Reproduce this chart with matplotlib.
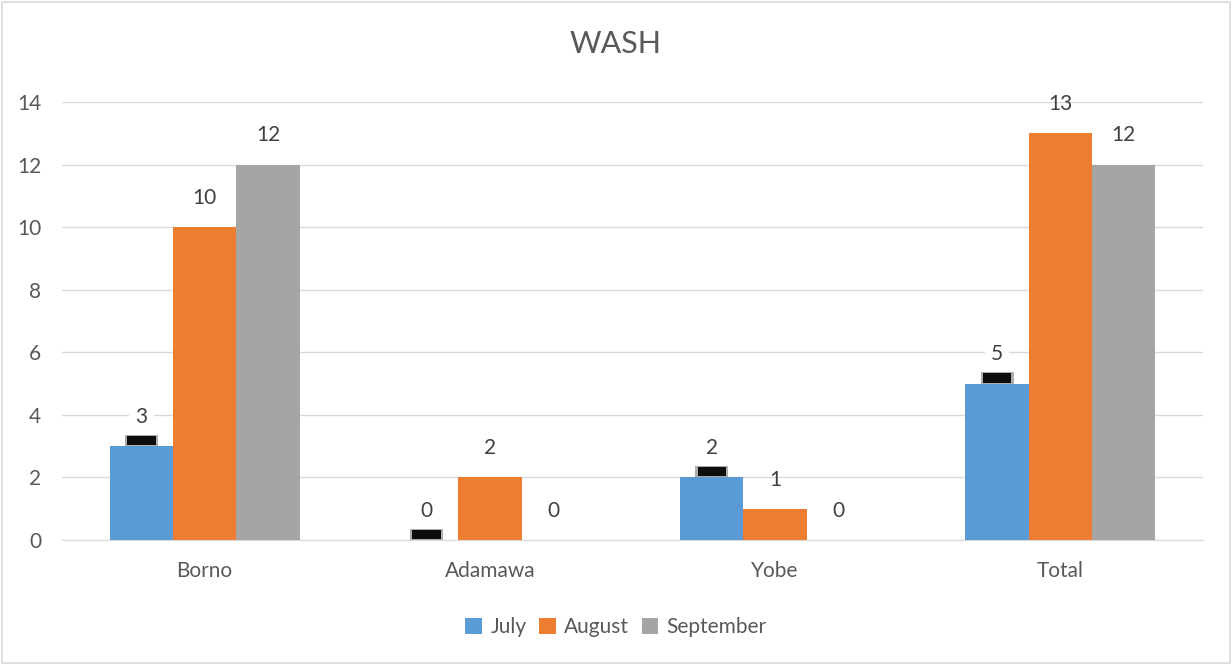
import matplotlib
matplotlib.use("Agg")
import matplotlib.pyplot as plt
import numpy as np

# ---------------- data ----------------
categories = ["Borno", "Adamawa", "Yobe", "Total"]
july       = [3, 0, 2, 5]
august     = [10, 2, 1, 13]
september  = [12, 0, 0, 12]
series     = [("July", july, "#5B9BD5"),
              ("August", august, "#ED7D31"),
              ("September", september, "#A5A5A5")]
# --------------------------------------

TEXT = "#595959"
FS = 15
plt.rcParams["font.family"] = ["Lato", "DejaVu Sans"]

fig = plt.figure(figsize=(12.32, 6.65), dpi=100)
ax = fig.add_axes([62 / 1232, 1 - 540 / 665, (1203 - 62) / 1232, (540 - 102) / 665])

x = np.arange(len(categories))
width = 0.222
for i, (name, vals, color) in enumerate(series):
    pos = x + (i - 1) * width
    ax.bar(pos, vals, width, color=color, label=name, zorder=3)
    for px, v in zip(pos, vals):
        if name == "July":
            # dark shadow under a white label box (as in the original)
            ax.add_patch(plt.Rectangle((px - 0.058, v), 0.116, 0.36, fc="#777777",
                                       ec="none", alpha=0.6, zorder=4))
            ax.add_patch(plt.Rectangle((px - 0.05, v + 0.03), 0.10, 0.3, fc="#0d0d0d",
                                       ec="none", zorder=4))
            ax.annotate(str(v), (px, v), xytext=(0, 21), textcoords="offset points",
                        ha="center", va="center", fontsize=FS, color="#404040",
                        bbox=dict(boxstyle="square,pad=0.3", fc="white", ec="none"),
                        zorder=5)
        else:
            ax.annotate(str(v), (px, v), xytext=(0, 21), textcoords="offset points",
                        ha="center", va="center", fontsize=FS, color="#404040", zorder=5)

ax.set_xlim(-0.5, 3.5)
ax.set_ylim(0, 14)
ax.set_yticks(range(0, 15, 2))
ax.set_xticks(x)
ax.set_xticklabels(categories)
ax.tick_params(axis="both", length=0, labelsize=FS, colors=TEXT)
ax.tick_params(axis="x", pad=15)
ax.tick_params(axis="y", pad=15)
ax.grid(axis="y", color="#D9D9D9", linewidth=1, zorder=0)
for s in ["top", "right", "left"]:
    ax.spines[s].set_visible(False)
ax.spines["bottom"].set_color("#D9D9D9")

fig.text(0.5, 1 - 44 / 665, "WASH", ha="center", va="center", fontsize=22, color=TEXT)

fig.legend(loc="center", bbox_to_anchor=(0.5, 1 - 627 / 665), ncol=3, frameon=False,
           fontsize=FS, labelcolor=TEXT, handlelength=0.8, handleheight=0.8,
           handletextpad=0.4, columnspacing=0.6)

# light frame around the whole chart
fig.patches.append(plt.Rectangle((0.002, 0.003), 0.996, 0.994, transform=fig.transFigure,
                                 fill=False, ec="#D9D9D9", lw=1.2))

fig.savefig("out.png", dpi=100)
